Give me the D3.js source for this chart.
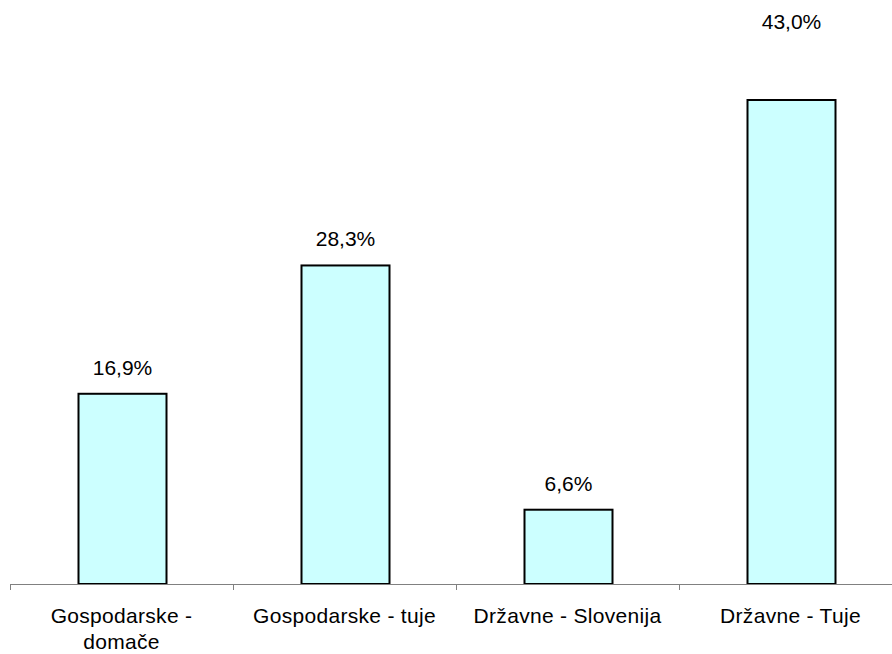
<!DOCTYPE html>
<html><head><meta charset="utf-8">
<script src="https://cdn.jsdelivr.net/npm/d3@7"></script>
<style>body{margin:0;background:#fff}svg{display:block}text{font-family:"Liberation Sans",Arial,sans-serif}</style>
</head><body><svg id="c" width="892" height="654"></svg>
<script>
const categories = ["Gospodarske - domače", "Gospodarske - tuje", "Državne - Slovenija", "Državne - Tuje"];
const values = [16.9, 28.3, 6.6, 43.0];
const valueLabels = ["16,9%", "28,3%", "6,6%", "43,0%"];

const svg = d3.select("#c");
const x0 = 10, bw = 223, axisY = 584;
const x = d3.scaleBand().domain(categories).range([x0, x0 + bw * 4]).paddingInner(0).paddingOuter(0);
const y = d3.scaleLinear().domain([0, 43]).range([axisY, 100]);

const barW = 88;
svg.selectAll("rect.bar").data(values).enter().append("rect")
  .attr("x", (d, i) => x(categories[i]) + x.bandwidth() / 2 - barW / 2 + 1)
  .attr("y", d => y(d))
  .attr("width", barW)
  .attr("height", d => axisY - y(d))
  .attr("fill", "#CCFFFF").attr("stroke", "#000").attr("stroke-width", 2);

const axis = d3.axisBottom(x).tickSize(5).tickFormat("");
const g = svg.append("g").attr("transform", `translate(0,${axisY})`).call(axis);
g.select(".domain").attr("stroke", "#808080").attr("d", `M${x0},0.5H${x0 + bw * 4}`);
g.selectAll(".tick").remove();
[0, 1, 2, 3, 4].forEach(i => {
  const tx = Math.round(x0 + i * bw) + 0.5;
  g.append("line").attr("x1", tx).attr("x2", tx).attr("y1", 0).attr("y2", 6).attr("stroke", "#808080");
});

// category labels with wrapping
const baseY = 623, lineH = 26;
categories.forEach((c, i) => {
  const cx = x(c) + x.bandwidth() / 2;
  const t = svg.append("text").attr("x", cx).attr("y", baseY).attr("text-anchor", "middle")
    .attr("font-size", 21).attr("letter-spacing", 0.3).attr("fill", "#000");
  const words = c.split(" ");
  let line = [], lineNo = 0;
  let ts = t.append("tspan").attr("x", cx).attr("y", baseY);
  words.forEach(w => {
    line.push(w);
    ts.text(line.join(" "));
    if (ts.node().getComputedTextLength() > 210 && line.length > 1) {
      line.pop(); ts.text(line.join(" "));
      line = [w]; lineNo++;
      ts = t.append("tspan").attr("x", cx).attr("y", baseY + lineNo * lineH).text(w);
    }
  });
});

const maxV = d3.max(values);
svg.selectAll("text.val").data(values).enter().append("text")
  .attr("x", (d, i) => x(categories[i]) + x.bandwidth() / 2 + 1)
  .attr("y", d => d === maxV ? 29 : y(d) - 19)
  .attr("text-anchor", "middle").attr("font-size", 21).attr("fill", "#000")
  .text((d, i) => valueLabels[i]);
</script></body></html>
